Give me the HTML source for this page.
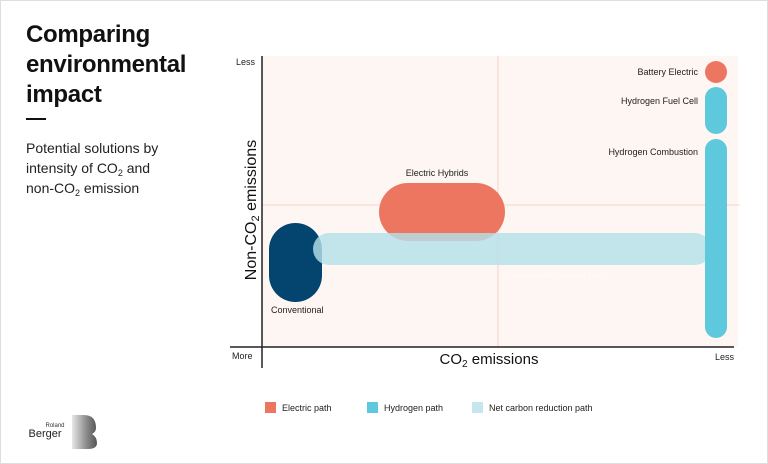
<!DOCTYPE html>
<html><head><meta charset="utf-8"><style>
body{margin:0;width:768px;height:464px;overflow:hidden;background:#fff;font-family:"Liberation Sans",sans-serif}
.frame{position:absolute;left:0;top:0;width:766px;height:462px;border:1px solid #dedede}
.t{position:absolute;color:#111;white-space:nowrap}
sub{font-size:9px;vertical-align:0;position:relative;top:3px;line-height:0}
</style></head><body>
<div class="frame"></div>
<div class="t" style="left:26px;top:20px;font-size:24px;font-weight:bold;line-height:30px;letter-spacing:-0.3px">Comparing<br>environmental<br>impact</div>
<div style="position:absolute;left:26px;top:118px;width:20px;height:2px;background:#111"></div>
<div class="t" style="left:26px;top:138px;font-size:14px;line-height:20px;color:#222">Potential solutions by<br>intensity of CO<sub>2</sub> and<br>non-CO<sub>2</sub> emission</div>
<svg width="768" height="464" style="position:absolute;left:0;top:0" font-family="Liberation Sans, sans-serif">
<rect x="262" y="56" width="476" height="291" fill="#fdf6f3"/>
<line x1="498" y1="56" x2="498" y2="347" stroke="#f5c8bc" stroke-width="0.8"/>
<line x1="262" y1="205" x2="740" y2="205" stroke="#f5c8bc" stroke-width="0.8"/>
<rect x="269" y="223" width="53" height="79" rx="26.5" fill="#03456f"/>
<rect x="379" y="183" width="126" height="58" rx="29" fill="#ec7660"/>
<rect x="313" y="233" width="398" height="32" rx="16" fill="#b5e0ea" fill-opacity="0.82"/>
<circle cx="716" cy="72" r="11" fill="#ec7660"/>
<rect x="705" y="87" width="22" height="47" rx="11" fill="#5ec8dc"/>
<rect x="705" y="139" width="22" height="199" rx="11" fill="#5ec8dc"/>
<line x1="262" y1="56" x2="262" y2="368" stroke="#222" stroke-width="1.5"/>
<line x1="230" y1="347" x2="734" y2="347" stroke="#222" stroke-width="1.5"/>
<g font-size="9" fill="#222">
<text x="698" y="75" text-anchor="end">Battery Electric</text>
<text x="698" y="104" text-anchor="end">Hydrogen Fuel Cell</text>
<text x="698" y="155" text-anchor="end">Hydrogen Combustion</text>
<text x="437" y="176" text-anchor="middle">Electric Hybrids</text>
<text x="271" y="313">Conventional</text>
<text x="505" y="278" fill="#fff" fill-opacity="0.5">Sustainable Aviation Fuels</text>
<text x="236" y="65">Less</text>
<text x="232" y="359">More</text>
<text x="715" y="360">Less</text>
</g>
<text x="489" y="364" font-size="15" text-anchor="middle" fill="#111">CO<tspan font-size="10" dy="3">2</tspan><tspan dy="-3"> emissions</tspan></text>
<text transform="translate(256,210) rotate(-90)" font-size="16" text-anchor="middle" fill="#111">Non-CO<tspan font-size="11" dy="3">2</tspan><tspan dy="-3"> emissions</tspan></text>
<g font-size="9" fill="#222">
<rect x="265" y="402" width="11" height="11" fill="#ec7660"/><text x="282" y="411">Electric path</text>
<rect x="367" y="402" width="11" height="11" fill="#5ec8dc"/><text x="384" y="411">Hydrogen path</text>
<rect x="472" y="402" width="11" height="11" fill="#c5e6ee"/><text x="489" y="411">Net carbon reduction path</text>
</g>
<defs><linearGradient id="g" x1="0" x2="1"><stop offset="0" stop-color="#e8e8e8"/><stop offset="0.6" stop-color="#888"/><stop offset="1" stop-color="#555"/></linearGradient></defs>
<path d="M72 415 H84 Q96 415 96 428 Q96 432 92 434 Q97 437 97 443 Q97 449 88 449 H72 Z" fill="url(#g)"/>
<text x="55" y="427" font-size="6" fill="#333" text-anchor="middle">Roland</text>
<text x="45" y="437" font-size="11" fill="#222" text-anchor="middle">Berger</text>
</svg>
</body></html>
